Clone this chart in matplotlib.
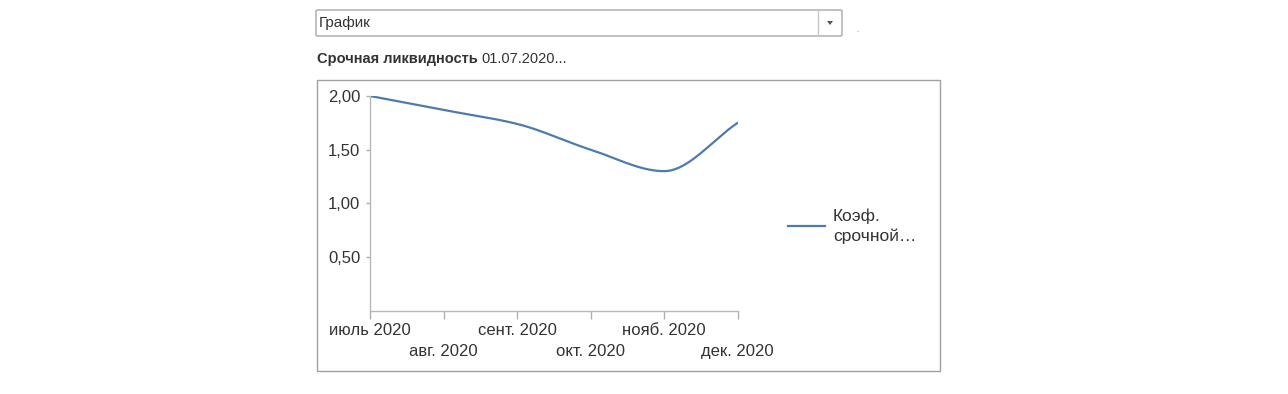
import numpy as np
import matplotlib
matplotlib.use("Agg")
import matplotlib.pyplot as plt
from matplotlib.patches import Rectangle, FancyBboxPatch, Polygon
from matplotlib.lines import Line2D

plt.rcParams['font.family'] = ['Liberation Sans', 'DejaVu Sans']

months = ["июль 2020", "авг. 2020", "сент. 2020", "окт. 2020", "нояб. 2020", "дек. 2020"]
values = [2.00, 1.87, 1.74, 1.50, 1.30, 1.75]
series_name = "Коэф.\nсрочной…"
title_bold = "Срочная ликвидность"
title_rest = "01.07.2020..."
y_ticks = [0.5, 1.0, 1.5, 2.0]
y_labels = ["0,50", "1,00", "1,50", "2,00"]

W, H = 1288, 394
TXT = '#333333'
GRID = '#a8a8a8'
LINE = '#4d7cac'


def fx(x):
    return x / W


def fy(y):
    return 1 - y / H


def smooth(x, y, n=400):
    # monotone cubic (pchip-like) smoothing for drawing the line
    x = np.asarray(x, float)
    y = np.asarray(y, float)
    h = np.diff(x)
    d = np.diff(y) / h
    m = np.zeros_like(y)
    for i in range(1, len(y) - 1):
        if d[i - 1] * d[i] > 0:
            m[i] = 2 / (1 / d[i - 1] + 1 / d[i])
    m[0] = d[0]
    m[-1] = d[-1]
    xs = np.linspace(x[0], x[-1], n)
    idx = np.clip(np.searchsorted(x, xs) - 1, 0, len(x) - 2)
    t = (xs - x[idx]) / h[idx]
    h00 = 2 * t ** 3 - 3 * t ** 2 + 1
    h10 = t ** 3 - 2 * t ** 2 + t
    h01 = -2 * t ** 3 + 3 * t ** 2
    h11 = t ** 3 - t ** 2
    ys = h00 * y[idx] + h10 * h[idx] * m[idx] + h01 * y[idx + 1] + h11 * h[idx] * m[idx + 1]
    return xs, ys


fig = plt.figure(figsize=(W / 100, H / 100), dpi=100)

# combo box "График"
fig.patches.append(FancyBboxPatch((fx(316), fy(36)), fx(842 - 316), (36 - 10) / H,
                                  boxstyle="round,pad=0,rounding_size=0.002",
                                  transform=fig.transFigure, facecolor='white',
                                  edgecolor=GRID, linewidth=1))
fig.lines.append(Line2D([fx(818), fx(818)], [fy(11), fy(35)], transform=fig.transFigure,
                        color='#c8c8c8', linewidth=1))
fig.patches.append(Polygon([(fx(827), fy(21)), (fx(833), fy(21)), (fx(830), fy(25))],
                           closed=True, transform=fig.transFigure, facecolor='#555555',
                           edgecolor='none'))
fig.text(fx(319), fy(23), "График", ha='left', va='center', fontsize=11, color=TXT)
fig.text(fx(857), fy(30), ".", ha='center', va='center', fontsize=6, color='#777777')

# title
t = fig.text(fx(317), fy(59), title_bold, ha='left', va='center', fontsize=10.5,
             fontweight='bold', color=TXT)
fig.canvas.draw()
bb = t.get_window_extent()
fig.text(bb.x1 / W + fx(4), fy(59), title_rest, ha='left', va='center', fontsize=10.5,
         color=TXT)

# chart frame
fig.patches.append(Rectangle((fx(316.5), fy(371)), fx(940 - 316.5), (371 - 80) / H,
                             transform=fig.transFigure, facecolor='none',
                             edgecolor='#a0a0a0', linewidth=1))

ax = fig.add_axes([fx(370), fy(310.7), fx(737.7 - 370), (310.7 - 96) / H])
xpos = np.arange(len(months))
xs, ys = smooth(xpos, values)
ax.plot(xs, ys, color=LINE, linewidth=1.6, solid_capstyle='round')
ax.set_xlim(0, len(months) - 1)
ax.set_ylim(0, 2.0)

ax.set_xticks(xpos)
ax.set_xticklabels([m if i % 2 == 0 else "\n" + m for i, m in enumerate(months)],
                   linespacing=1.5)
ax.set_yticks(y_ticks)
ax.set_yticklabels(y_labels)
ax.tick_params(axis='x', length=6, width=1, color='#b0b0b0', labelsize=12,
               labelcolor=TXT, pad=2.5)
ax.tick_params(axis='y', length=3, width=1, color='#b0b0b0', labelsize=12,
               labelcolor=TXT, pad=4)
for s in ['top', 'right']:
    ax.spines[s].set_visible(False)
for s in ['left', 'bottom']:
    ax.spines[s].set_color('#b8b8b8')
    ax.spines[s].set_linewidth(1)
ax.patch.set_alpha(0)

# legend
fig.lines.append(Line2D([fx(788), fx(825)], [fy(226), fy(226)], transform=fig.transFigure,
                        color=LINE, linewidth=1.6))
fig.text(fx(833), fy(226), series_name, ha='left', va='center', fontsize=12.5,
         color=TXT, linespacing=1.4)

fig.savefig("out.png", dpi=100, facecolor='white')
